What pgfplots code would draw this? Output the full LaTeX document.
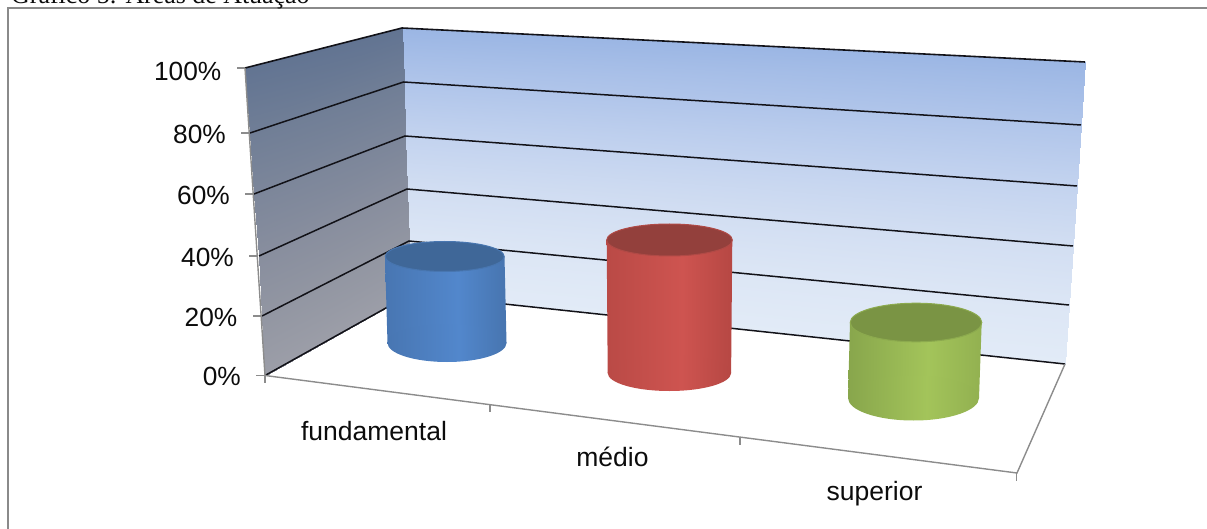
\documentclass[border=0pt]{standalone}
\usepackage{fontspec}
\usepackage{pgfplots}
\pgfplotsset{compat=1.18}
\setmainfont{Liberation Sans}
\newfontfamily\captionserif{Liberation Serif}

\definecolor{frameline}{RGB}{138,138,138}
\definecolor{axisgray}{RGB}{140,140,140}
\definecolor{gridline}{RGB}{18,18,24}
\definecolor{labelink}{RGB}{12,12,12}

% Cylinder side shadings: dark at both edges, lit just past the middle
\definecolor{bA}{RGB}{58,102,158}\definecolor{bB}{RGB}{72,118,178}\definecolor{bC}{RGB}{82,135,204}\definecolor{bD}{RGB}{68,112,168}\definecolor{bE}{RGB}{46,86,132}
\definecolor{rA}{RGB}{158,60,56}\definecolor{rB}{RGB}{186,74,70}\definecolor{rC}{RGB}{206,84,80}\definecolor{rD}{RGB}{176,68,64}\definecolor{rE}{RGB}{134,52,48}
\definecolor{gA}{RGB}{106,134,60}\definecolor{gB}{RGB}{136,166,76}\definecolor{gC}{RGB}{163,196,90}\definecolor{gD}{RGB}{142,172,78}\definecolor{gE}{RGB}{108,136,62}
\pgfdeclarehorizontalshading{blueside}{100bp}{color(0bp)=(bA);color(25bp)=(bB);color(55bp)=(bC);color(80bp)=(bD);color(100bp)=(bE)}
\pgfdeclarehorizontalshading{redside}{100bp}{color(0bp)=(rA);color(25bp)=(rB);color(55bp)=(rC);color(80bp)=(rD);color(100bp)=(rE)}
\pgfdeclarehorizontalshading{greenside}{100bp}{color(0bp)=(gA);color(25bp)=(gB);color(55bp)=(gC);color(80bp)=(gD);color(100bp)=(gE)}

% End caps of the three cylinders
\pgfdeclareplotmark{blue base}{\path[draw=none,shade,shading=blueside] (0,0) ellipse (59.5pt and 19pt);}
\pgfdeclareplotmark{red base}{\path[draw=none,shade,shading=redside] (0,0) ellipse (61.7pt and 18pt);}
\pgfdeclareplotmark{green base}{\path[draw=none,shade,shading=greenside] (0,0) ellipse (65.5pt and 22.5pt);}
\pgfdeclareplotmark{blue top}{\path[fill={rgb,255:red,63;green,103;blue,152},draw={rgb,255:red,72;green,118;blue,176},line width=1pt] (0,0) ellipse (59.5pt and 15pt);}
\pgfdeclareplotmark{red top}{\path[fill={rgb,255:red,147;green,64;blue,60},draw={rgb,255:red,176;green,74;blue,70},line width=1pt] (0,0) ellipse (62.8pt and 16pt);}
\pgfdeclareplotmark{green top}{\path[fill={rgb,255:red,122;green,148;blue,68},draw={rgb,255:red,140;green,170;blue,78},line width=1pt] (0,0) ellipse (65.8pt and 19.3pt);}

% Wall corners, one row per gridded level: x, y, shade
\pgfplotstableread{
x y m
402 28 0
1085 62 0
403.5 82 0.2
1081 125 0.2
405 136 0.4
1077 186 0.4
407 189 0.6
1073 246 0.6
409 241 0.8
1069 305 0.8
411 294 1
1065 364 1
}\backwall
\pgfplotstableread{
x y m
245 68 0
402 28 0
250 133 0.2
403.5 82 0.2
254 194 0.4
405 136 0.4
259 256 0.6
407 189 0.6
262 316 0.8
409 241 0.8
265 375.5 1
411 294 1
}\sidewall

\begin{document}
\begin{tikzpicture}[every node/.append style={text=labelink}]
\useasboundingbox (0,0) rectangle (1207pt,529pt);
\begin{axis}[
  at={(0,0)}, anchor=south west,
  x=1pt, y=1pt, scale only axis,
  xmin=0, xmax=1207, ymin=0, ymax=529, y dir=reverse,
  hide axis, clip=false,
  point meta min=0, point meta max=1,
  colormap={backwallmap}{rgb255=(155,182,228) rgb255=(176,197,234) rgb255=(195,211,239) rgb255=(210,222,242) rgb255=(220,230,245) rgb255=(226,235,247)},
  colormap={sidewallmap}{rgb255=(98,116,146) rgb255=(112,126,150) rgb255=(124,134,154) rgb255=(136,142,158) rgb255=(146,150,162) rgb255=(156,158,168)},
]
% Outer frame
\addplot[frameline, line width=1.3pt] coordinates {(8,529) (8,8) (1207,8)};

% Walls
\addplot[surf, shader=interp, colormap name=backwallmap, mesh/rows=6, mesh/cols=2, point meta=\thisrow{m}] table[x=x,y=y] {\backwall};
\addplot[surf, shader=interp, colormap name=sidewallmap, mesh/rows=6, mesh/cols=2, point meta=\thisrow{m}] table[x=x,y=y] {\sidewall};

% Grid lines, side wall then back wall
\addplot[gridline, line width=1.6pt] coordinates {(245,68) (402,28) (1085,62)};
\addplot[gridline, line width=1.5pt] coordinates {(250,133) (403.5,82) (1081,125)};
\addplot[gridline, line width=1.5pt] coordinates {(254,194) (405,136) (1077,186)};
\addplot[gridline, line width=1.5pt] coordinates {(259,256) (407,189) (1073,246)};
\addplot[gridline, line width=1.5pt] coordinates {(262,316) (409,241) (1069,305)};
\addplot[gridline, line width=1.5pt] coordinates {(265,375.5) (411,294) (1065,364)};

% Axis lines and tick marks
\addplot[axisgray, line width=1.4pt] coordinates {(245,68) (265,375.5) (1017,473) (1065,364)};
\addplot[axisgray, line width=1.4pt] coordinates {(237,68) (245,68)};
\addplot[axisgray, line width=1.4pt] coordinates {(241,133) (250,133)};
\addplot[axisgray, line width=1.4pt] coordinates {(245,194) (254,194)};
\addplot[axisgray, line width=1.4pt] coordinates {(249,256) (258,256)};
\addplot[axisgray, line width=1.4pt] coordinates {(253,316) (262,316)};
\addplot[axisgray, line width=1.4pt] coordinates {(256,375.5) (265,375.5)};
\addplot[axisgray, line width=1.4pt] coordinates {(265,375.5) (265,383)};
\addplot[axisgray, line width=1.4pt] coordinates {(490,404.5) (490,412)};
\addplot[axisgray, line width=1.4pt] coordinates {(740,437) (740,445)};
\addplot[axisgray, line width=1.4pt] coordinates {(1016.5,473) (1016.5,481)};

% Fundamental
\addplot[only marks, mark=blue base] coordinates {(447,343)};
\addplot[draw=none, shade, shading=blueside] coordinates {(385,256.5) (504.5,256.5) (506.5,343) (387.5,343)} --cycle;
\addplot[only marks, mark=blue top] coordinates {(444.7,256.5)};
% Medio
\addplot[only marks, mark=red base] coordinates {(669.4,373)};
\addplot[draw=none, shade, shading=redside] coordinates {(606.7,240) (732.3,240) (731.1,373) (607.7,373)} --cycle;
\addplot[only marks, mark=red top] coordinates {(669.5,240)};
% Superior
\addplot[only marks, mark=green base] coordinates {(913.5,398)};
\addplot[draw=none, shade, shading=greenside] coordinates {(850,322.5) (981.7,322.5) (979,398) (848,398)} --cycle;
\addplot[only marks, mark=green top] coordinates {(916,322.5)};

% Value labels of the side wall
\node[anchor=east, inner sep=0pt, font=\fontsize{26.3}{30}\selectfont] at (axis cs:221.5,71) {100\%};
\node[anchor=east, inner sep=0pt, font=\fontsize{26.3}{30}\selectfont] at (axis cs:226,134) {80\%};
\node[anchor=east, inner sep=0pt, font=\fontsize{26.3}{30}\selectfont] at (axis cs:230,195) {60\%};
\node[anchor=east, inner sep=0pt, font=\fontsize{26.3}{30}\selectfont] at (axis cs:234,257) {40\%};
\node[anchor=east, inner sep=0pt, font=\fontsize{26.3}{30}\selectfont] at (axis cs:237.5,317) {20\%};
\node[anchor=east, inner sep=0pt, font=\fontsize{26.3}{30}\selectfont] at (axis cs:241,376) {0\%};
% Category labels
\node[inner sep=0pt, font=\fontsize{26.5}{30}\selectfont] at (axis cs:374,431) {fundamental};
\node[inner sep=0pt, font=\fontsize{26.5}{30}\selectfont] at (axis cs:612.5,457) {médio};
\node[inner sep=0pt, font=\fontsize{26.5}{30}\selectfont] at (axis cs:874.5,494) {superior};
% Caption, cut by the upper edge of the page
\node[anchor=base west, inner sep=0pt, font=\captionserif\fontsize{25.9}{30}\selectfont] at (axis cs:11,3.5) {Gráfico 5: Áreas de Atuação};
\end{axis}
\end{tikzpicture}
\end{document}
